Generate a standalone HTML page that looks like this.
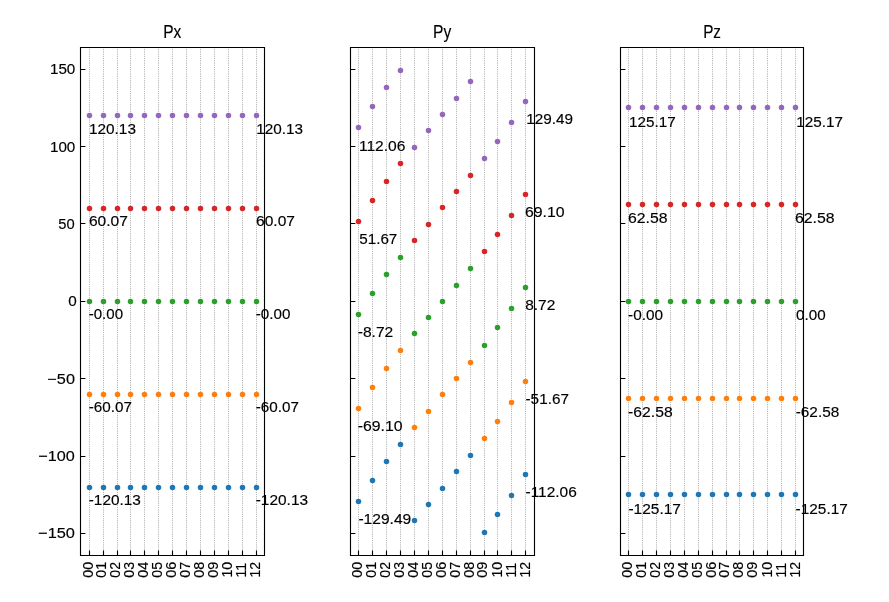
<!DOCTYPE html><html><head><meta charset="utf-8"><style>html,body{margin:0;padding:0;background:#fff;overflow:hidden}svg{display:block;will-change:transform}text{font-family:"Liberation Sans",sans-serif;fill:#000;stroke:#000;stroke-width:0.15px}</style></head><body>
<svg width="889" height="602" viewBox="0 0 889 602">
<rect width="889" height="602" fill="#fff"/>
<path d="M89.5 555.5V48M103.5 555.5V48M117.5 555.5V48M130.5 555.5V48M144.5 555.5V48M158.5 555.5V48M172.5 555.5V48M186.5 555.5V48M200.5 555.5V48M214.5 555.5V48M228.5 555.5V48M242.5 555.5V48M256.5 555.5V48" stroke="#999999" stroke-width="1" stroke-dasharray="0.69 1.15" fill="none"/>
<g fill="#1f77b4" stroke="#1f77b4" stroke-width="1.39"><circle cx="89.5" cy="487.5" r="2.08"/><circle cx="103.5" cy="487.5" r="2.08"/><circle cx="117.5" cy="487.5" r="2.08"/><circle cx="130.5" cy="487.5" r="2.08"/><circle cx="144.5" cy="487.5" r="2.08"/><circle cx="158.5" cy="487.5" r="2.08"/><circle cx="172.5" cy="487.5" r="2.08"/><circle cx="186.5" cy="487.5" r="2.08"/><circle cx="200.5" cy="487.5" r="2.08"/><circle cx="214.5" cy="487.5" r="2.08"/><circle cx="228.5" cy="487.5" r="2.08"/><circle cx="242.5" cy="487.5" r="2.08"/><circle cx="256.5" cy="487.5" r="2.08"/></g>
<g fill="#ff7f0e" stroke="#ff7f0e" stroke-width="1.39"><circle cx="89.5" cy="394.5" r="2.08"/><circle cx="103.5" cy="394.5" r="2.08"/><circle cx="117.5" cy="394.5" r="2.08"/><circle cx="130.5" cy="394.5" r="2.08"/><circle cx="144.5" cy="394.5" r="2.08"/><circle cx="158.5" cy="394.5" r="2.08"/><circle cx="172.5" cy="394.5" r="2.08"/><circle cx="186.5" cy="394.5" r="2.08"/><circle cx="200.5" cy="394.5" r="2.08"/><circle cx="214.5" cy="394.5" r="2.08"/><circle cx="228.5" cy="394.5" r="2.08"/><circle cx="242.5" cy="394.5" r="2.08"/><circle cx="256.5" cy="394.5" r="2.08"/></g>
<g fill="#2ca02c" stroke="#2ca02c" stroke-width="1.39"><circle cx="89.5" cy="301.5" r="2.08"/><circle cx="103.5" cy="301.5" r="2.08"/><circle cx="117.5" cy="301.5" r="2.08"/><circle cx="130.5" cy="301.5" r="2.08"/><circle cx="144.5" cy="301.5" r="2.08"/><circle cx="158.5" cy="301.5" r="2.08"/><circle cx="172.5" cy="301.5" r="2.08"/><circle cx="186.5" cy="301.5" r="2.08"/><circle cx="200.5" cy="301.5" r="2.08"/><circle cx="214.5" cy="301.5" r="2.08"/><circle cx="228.5" cy="301.5" r="2.08"/><circle cx="242.5" cy="301.5" r="2.08"/><circle cx="256.5" cy="301.5" r="2.08"/></g>
<g fill="#d62728" stroke="#d62728" stroke-width="1.39"><circle cx="89.5" cy="208.5" r="2.08"/><circle cx="103.5" cy="208.5" r="2.08"/><circle cx="117.5" cy="208.5" r="2.08"/><circle cx="130.5" cy="208.5" r="2.08"/><circle cx="144.5" cy="208.5" r="2.08"/><circle cx="158.5" cy="208.5" r="2.08"/><circle cx="172.5" cy="208.5" r="2.08"/><circle cx="186.5" cy="208.5" r="2.08"/><circle cx="200.5" cy="208.5" r="2.08"/><circle cx="214.5" cy="208.5" r="2.08"/><circle cx="228.5" cy="208.5" r="2.08"/><circle cx="242.5" cy="208.5" r="2.08"/><circle cx="256.5" cy="208.5" r="2.08"/></g>
<g fill="#9467bd" stroke="#9467bd" stroke-width="1.39"><circle cx="89.5" cy="115.5" r="2.08"/><circle cx="103.5" cy="115.5" r="2.08"/><circle cx="117.5" cy="115.5" r="2.08"/><circle cx="130.5" cy="115.5" r="2.08"/><circle cx="144.5" cy="115.5" r="2.08"/><circle cx="158.5" cy="115.5" r="2.08"/><circle cx="172.5" cy="115.5" r="2.08"/><circle cx="186.5" cy="115.5" r="2.08"/><circle cx="200.5" cy="115.5" r="2.08"/><circle cx="214.5" cy="115.5" r="2.08"/><circle cx="228.5" cy="115.5" r="2.08"/><circle cx="242.5" cy="115.5" r="2.08"/><circle cx="256.5" cy="115.5" r="2.08"/></g>
<path d="M80.5 47.5H264.5V555.5H80.5Z" stroke="#000" stroke-width="1.11" fill="none" stroke-linejoin="miter" stroke-linecap="square"/>
<path d="M80.5 69.5H85.4M80.5 146.5H85.4M80.5 223.5H85.4M80.5 301.5H85.4M80.5 378.5H85.4M80.5 456.5H85.4M80.5 533.5H85.4M89.5 555.5V550.6M103.5 555.5V550.6M117.5 555.5V550.6M130.5 555.5V550.6M144.5 555.5V550.6M158.5 555.5V550.6M172.5 555.5V550.6M186.5 555.5V550.6M200.5 555.5V550.6M214.5 555.5V550.6M228.5 555.5V550.6M242.5 555.5V550.6M256.5 555.5V550.6" stroke="#000" stroke-width="1.11" fill="none"/>
<path d="M358.5 555.5V48M372.5 555.5V48M386.5 555.5V48M400.5 555.5V48M414.5 555.5V48M428.5 555.5V48M442.5 555.5V48M456.5 555.5V48M470.5 555.5V48M484.5 555.5V48M497.5 555.5V48M511.5 555.5V48M525.5 555.5V48" stroke="#999999" stroke-width="1" stroke-dasharray="0.69 1.15" fill="none"/>
<g fill="#1f77b4" stroke="#1f77b4" stroke-width="1.39"><circle cx="358.5" cy="501.5" r="2.08"/><circle cx="372.5" cy="480.5" r="2.08"/><circle cx="386.5" cy="461.5" r="2.08"/><circle cx="400.5" cy="444.5" r="2.08"/><circle cx="414.5" cy="520.5" r="2.08"/><circle cx="428.5" cy="504.5" r="2.08"/><circle cx="442.5" cy="488.5" r="2.08"/><circle cx="456.5" cy="471.5" r="2.08"/><circle cx="470.5" cy="455.5" r="2.08"/><circle cx="484.5" cy="532.5" r="2.08"/><circle cx="497.5" cy="514.5" r="2.08"/><circle cx="511.5" cy="495.5" r="2.08"/><circle cx="525.5" cy="474.5" r="2.08"/></g>
<g fill="#ff7f0e" stroke="#ff7f0e" stroke-width="1.39"><circle cx="358.5" cy="408.5" r="2.08"/><circle cx="372.5" cy="387.5" r="2.08"/><circle cx="386.5" cy="368.5" r="2.08"/><circle cx="400.5" cy="350.5" r="2.08"/><circle cx="414.5" cy="427.5" r="2.08"/><circle cx="428.5" cy="411.5" r="2.08"/><circle cx="442.5" cy="394.5" r="2.08"/><circle cx="456.5" cy="378.5" r="2.08"/><circle cx="470.5" cy="362.5" r="2.08"/><circle cx="484.5" cy="438.5" r="2.08"/><circle cx="497.5" cy="421.5" r="2.08"/><circle cx="511.5" cy="402.5" r="2.08"/><circle cx="525.5" cy="381.5" r="2.08"/></g>
<g fill="#2ca02c" stroke="#2ca02c" stroke-width="1.39"><circle cx="358.5" cy="314.5" r="2.08"/><circle cx="372.5" cy="293.5" r="2.08"/><circle cx="386.5" cy="274.5" r="2.08"/><circle cx="400.5" cy="257.5" r="2.08"/><circle cx="414.5" cy="333.5" r="2.08"/><circle cx="428.5" cy="317.5" r="2.08"/><circle cx="442.5" cy="301.5" r="2.08"/><circle cx="456.5" cy="285.5" r="2.08"/><circle cx="470.5" cy="268.5" r="2.08"/><circle cx="484.5" cy="345.5" r="2.08"/><circle cx="497.5" cy="327.5" r="2.08"/><circle cx="511.5" cy="308.5" r="2.08"/><circle cx="525.5" cy="287.5" r="2.08"/></g>
<g fill="#d62728" stroke="#d62728" stroke-width="1.39"><circle cx="358.5" cy="221.5" r="2.08"/><circle cx="372.5" cy="200.5" r="2.08"/><circle cx="386.5" cy="181.5" r="2.08"/><circle cx="400.5" cy="163.5" r="2.08"/><circle cx="414.5" cy="240.5" r="2.08"/><circle cx="428.5" cy="224.5" r="2.08"/><circle cx="442.5" cy="207.5" r="2.08"/><circle cx="456.5" cy="191.5" r="2.08"/><circle cx="470.5" cy="175.5" r="2.08"/><circle cx="484.5" cy="251.5" r="2.08"/><circle cx="497.5" cy="234.5" r="2.08"/><circle cx="511.5" cy="215.5" r="2.08"/><circle cx="525.5" cy="194.5" r="2.08"/></g>
<g fill="#9467bd" stroke="#9467bd" stroke-width="1.39"><circle cx="358.5" cy="127.5" r="2.08"/><circle cx="372.5" cy="106.5" r="2.08"/><circle cx="386.5" cy="87.5" r="2.08"/><circle cx="400.5" cy="70.5" r="2.08"/><circle cx="414.5" cy="147.5" r="2.08"/><circle cx="428.5" cy="130.5" r="2.08"/><circle cx="442.5" cy="114.5" r="2.08"/><circle cx="456.5" cy="98.5" r="2.08"/><circle cx="470.5" cy="81.5" r="2.08"/><circle cx="484.5" cy="158.5" r="2.08"/><circle cx="497.5" cy="141.5" r="2.08"/><circle cx="511.5" cy="122.5" r="2.08"/><circle cx="525.5" cy="101.5" r="2.08"/></g>
<path d="M350.5 47.5H534.5V555.5H350.5Z" stroke="#000" stroke-width="1.11" fill="none" stroke-linejoin="miter" stroke-linecap="square"/>
<path d="M350.5 69.5H355.4M350.5 146.5H355.4M350.5 223.5H355.4M350.5 301.5H355.4M350.5 378.5H355.4M350.5 456.5H355.4M350.5 533.5H355.4M358.5 555.5V550.6M372.5 555.5V550.6M386.5 555.5V550.6M400.5 555.5V550.6M414.5 555.5V550.6M428.5 555.5V550.6M442.5 555.5V550.6M456.5 555.5V550.6M470.5 555.5V550.6M484.5 555.5V550.6M497.5 555.5V550.6M511.5 555.5V550.6M525.5 555.5V550.6" stroke="#000" stroke-width="1.11" fill="none"/>
<path d="M628.5 555.5V48M642.5 555.5V48M656.5 555.5V48M670.5 555.5V48M684.5 555.5V48M698.5 555.5V48M712.5 555.5V48M726.5 555.5V48M739.5 555.5V48M753.5 555.5V48M767.5 555.5V48M781.5 555.5V48M795.5 555.5V48" stroke="#999999" stroke-width="1" stroke-dasharray="0.69 1.15" fill="none"/>
<g fill="#1f77b4" stroke="#1f77b4" stroke-width="1.39"><circle cx="628.5" cy="494.5" r="2.08"/><circle cx="642.5" cy="494.5" r="2.08"/><circle cx="656.5" cy="494.5" r="2.08"/><circle cx="670.5" cy="494.5" r="2.08"/><circle cx="684.5" cy="494.5" r="2.08"/><circle cx="698.5" cy="494.5" r="2.08"/><circle cx="712.5" cy="494.5" r="2.08"/><circle cx="726.5" cy="494.5" r="2.08"/><circle cx="739.5" cy="494.5" r="2.08"/><circle cx="753.5" cy="494.5" r="2.08"/><circle cx="767.5" cy="494.5" r="2.08"/><circle cx="781.5" cy="494.5" r="2.08"/><circle cx="795.5" cy="494.5" r="2.08"/></g>
<g fill="#ff7f0e" stroke="#ff7f0e" stroke-width="1.39"><circle cx="628.5" cy="398.5" r="2.08"/><circle cx="642.5" cy="398.5" r="2.08"/><circle cx="656.5" cy="398.5" r="2.08"/><circle cx="670.5" cy="398.5" r="2.08"/><circle cx="684.5" cy="398.5" r="2.08"/><circle cx="698.5" cy="398.5" r="2.08"/><circle cx="712.5" cy="398.5" r="2.08"/><circle cx="726.5" cy="398.5" r="2.08"/><circle cx="739.5" cy="398.5" r="2.08"/><circle cx="753.5" cy="398.5" r="2.08"/><circle cx="767.5" cy="398.5" r="2.08"/><circle cx="781.5" cy="398.5" r="2.08"/><circle cx="795.5" cy="398.5" r="2.08"/></g>
<g fill="#2ca02c" stroke="#2ca02c" stroke-width="1.39"><circle cx="628.5" cy="301.5" r="2.08"/><circle cx="642.5" cy="301.5" r="2.08"/><circle cx="656.5" cy="301.5" r="2.08"/><circle cx="670.5" cy="301.5" r="2.08"/><circle cx="684.5" cy="301.5" r="2.08"/><circle cx="698.5" cy="301.5" r="2.08"/><circle cx="712.5" cy="301.5" r="2.08"/><circle cx="726.5" cy="301.5" r="2.08"/><circle cx="739.5" cy="301.5" r="2.08"/><circle cx="753.5" cy="301.5" r="2.08"/><circle cx="767.5" cy="301.5" r="2.08"/><circle cx="781.5" cy="301.5" r="2.08"/><circle cx="795.5" cy="301.5" r="2.08"/></g>
<g fill="#d62728" stroke="#d62728" stroke-width="1.39"><circle cx="628.5" cy="204.5" r="2.08"/><circle cx="642.5" cy="204.5" r="2.08"/><circle cx="656.5" cy="204.5" r="2.08"/><circle cx="670.5" cy="204.5" r="2.08"/><circle cx="684.5" cy="204.5" r="2.08"/><circle cx="698.5" cy="204.5" r="2.08"/><circle cx="712.5" cy="204.5" r="2.08"/><circle cx="726.5" cy="204.5" r="2.08"/><circle cx="739.5" cy="204.5" r="2.08"/><circle cx="753.5" cy="204.5" r="2.08"/><circle cx="767.5" cy="204.5" r="2.08"/><circle cx="781.5" cy="204.5" r="2.08"/><circle cx="795.5" cy="204.5" r="2.08"/></g>
<g fill="#9467bd" stroke="#9467bd" stroke-width="1.39"><circle cx="628.5" cy="107.5" r="2.08"/><circle cx="642.5" cy="107.5" r="2.08"/><circle cx="656.5" cy="107.5" r="2.08"/><circle cx="670.5" cy="107.5" r="2.08"/><circle cx="684.5" cy="107.5" r="2.08"/><circle cx="698.5" cy="107.5" r="2.08"/><circle cx="712.5" cy="107.5" r="2.08"/><circle cx="726.5" cy="107.5" r="2.08"/><circle cx="739.5" cy="107.5" r="2.08"/><circle cx="753.5" cy="107.5" r="2.08"/><circle cx="767.5" cy="107.5" r="2.08"/><circle cx="781.5" cy="107.5" r="2.08"/><circle cx="795.5" cy="107.5" r="2.08"/></g>
<path d="M620.5 47.5H803.5V555.5H620.5Z" stroke="#000" stroke-width="1.11" fill="none" stroke-linejoin="miter" stroke-linecap="square"/>
<path d="M620.5 69.5H625.4M620.5 146.5H625.4M620.5 223.5H625.4M620.5 301.5H625.4M620.5 378.5H625.4M620.5 456.5H625.4M620.5 533.5H625.4M628.5 555.5V550.6M642.5 555.5V550.6M656.5 555.5V550.6M670.5 555.5V550.6M684.5 555.5V550.6M698.5 555.5V550.6M712.5 555.5V550.6M726.5 555.5V550.6M739.5 555.5V550.6M753.5 555.5V550.6M767.5 555.5V550.6M781.5 555.5V550.6M795.5 555.5V550.6" stroke="#000" stroke-width="1.11" fill="none"/>
<text transform="translate(163.13,37.80) scale(0.8777,1)" font-size="17.66">Px</text>
<text transform="translate(433.12,37.80) scale(0.8836,1)" font-size="17.66">Py</text>
<text transform="translate(703.15,37.80) scale(0.8643,1)" font-size="17.66">Pz</text>
<text transform="translate(49.94,74.10) scale(1.0344,1)" font-size="14.72">150</text>
<text transform="translate(49.94,152.10) scale(1.0344,1)" font-size="14.72">100</text>
<text transform="translate(58.21,229.00) scale(0.9994,1)" font-size="14.72">50</text>
<text transform="translate(68.20,306.00) scale(1.0374,1)" font-size="14.72">0</text>
<text transform="translate(47.35,384.00) scale(1.1048,1)" font-size="14.72">−50</text>
<text transform="translate(38.30,460.95) scale(1.1019,1)" font-size="14.72">−100</text>
<text transform="translate(38.09,538.10) scale(1.1129,1)" font-size="14.72">−150</text>
<text transform="translate(92.60,577.66) rotate(-90) scale(0.9735,1)" font-size="14.72">00</text>
<text transform="translate(105.52,577.65) rotate(-90) scale(0.9604,1)" font-size="14.72">01</text>
<text transform="translate(120.44,577.65) rotate(-90) scale(0.9549,1)" font-size="14.72">02</text>
<text transform="translate(134.36,577.66) rotate(-90) scale(0.9661,1)" font-size="14.72">03</text>
<text transform="translate(148.28,577.66) rotate(-90) scale(0.9729,1)" font-size="14.72">04</text>
<text transform="translate(162.20,577.65) rotate(-90) scale(0.9583,1)" font-size="14.72">05</text>
<text transform="translate(176.12,577.67) rotate(-90) scale(0.9807,1)" font-size="14.72">06</text>
<text transform="translate(190.04,577.66) rotate(-90) scale(0.9678,1)" font-size="14.72">07</text>
<text transform="translate(203.96,577.66) rotate(-90) scale(0.9760,1)" font-size="14.72">08</text>
<text transform="translate(217.88,577.66) rotate(-90) scale(0.9780,1)" font-size="14.72">09</text>
<text transform="translate(231.80,577.62) rotate(-90) scale(0.9708,1)" font-size="14.72">10</text>
<text transform="translate(245.72,577.60) rotate(-90) scale(0.9571,1)" font-size="14.72">11</text>
<text transform="translate(259.64,577.60) rotate(-90) scale(0.9514,1)" font-size="14.72">12</text>
<text transform="translate(362.16,577.66) rotate(-90) scale(0.9735,1)" font-size="14.72">00</text>
<text transform="translate(376.08,577.65) rotate(-90) scale(0.9604,1)" font-size="14.72">01</text>
<text transform="translate(390.00,577.65) rotate(-90) scale(0.9549,1)" font-size="14.72">02</text>
<text transform="translate(403.92,577.66) rotate(-90) scale(0.9661,1)" font-size="14.72">03</text>
<text transform="translate(417.84,577.66) rotate(-90) scale(0.9729,1)" font-size="14.72">04</text>
<text transform="translate(431.76,577.65) rotate(-90) scale(0.9583,1)" font-size="14.72">05</text>
<text transform="translate(445.68,577.67) rotate(-90) scale(0.9807,1)" font-size="14.72">06</text>
<text transform="translate(459.60,577.66) rotate(-90) scale(0.9678,1)" font-size="14.72">07</text>
<text transform="translate(473.52,577.66) rotate(-90) scale(0.9760,1)" font-size="14.72">08</text>
<text transform="translate(487.44,577.66) rotate(-90) scale(0.9780,1)" font-size="14.72">09</text>
<text transform="translate(502.26,577.62) rotate(-90) scale(0.9708,1)" font-size="14.72">10</text>
<text transform="translate(516.18,577.60) rotate(-90) scale(0.9571,1)" font-size="14.72">11</text>
<text transform="translate(530.10,577.60) rotate(-90) scale(0.9514,1)" font-size="14.72">12</text>
<text transform="translate(632.00,577.66) rotate(-90) scale(0.9735,1)" font-size="14.72">00</text>
<text transform="translate(645.92,577.65) rotate(-90) scale(0.9604,1)" font-size="14.72">01</text>
<text transform="translate(659.84,577.65) rotate(-90) scale(0.9549,1)" font-size="14.72">02</text>
<text transform="translate(673.76,577.66) rotate(-90) scale(0.9661,1)" font-size="14.72">03</text>
<text transform="translate(687.68,577.66) rotate(-90) scale(0.9729,1)" font-size="14.72">04</text>
<text transform="translate(701.60,577.65) rotate(-90) scale(0.9583,1)" font-size="14.72">05</text>
<text transform="translate(715.52,577.67) rotate(-90) scale(0.9807,1)" font-size="14.72">06</text>
<text transform="translate(729.44,577.66) rotate(-90) scale(0.9678,1)" font-size="14.72">07</text>
<text transform="translate(743.36,577.66) rotate(-90) scale(0.9760,1)" font-size="14.72">08</text>
<text transform="translate(757.28,577.66) rotate(-90) scale(0.9780,1)" font-size="14.72">09</text>
<text transform="translate(772.10,577.62) rotate(-90) scale(0.9708,1)" font-size="14.72">10</text>
<text transform="translate(786.02,577.60) rotate(-90) scale(0.9571,1)" font-size="14.72">11</text>
<text transform="translate(799.94,577.60) rotate(-90) scale(0.9514,1)" font-size="14.72">12</text>
<text transform="translate(88.93,134.05) scale(1.0450,1)" font-size="14.72">120.13</text>
<text transform="translate(88.91,226.05) scale(1.0609,1)" font-size="14.72">60.07</text>
<text transform="translate(88.73,319.00) scale(1.0241,1)" font-size="14.72">-0.00</text>
<text transform="translate(88.72,412.00) scale(1.0361,1)" font-size="14.72">-60.07</text>
<text transform="translate(88.72,505.00) scale(1.0468,1)" font-size="14.72">-120.13</text>
<text transform="translate(256.24,134.20) scale(1.0380,1)" font-size="14.72">120.13</text>
<text transform="translate(255.96,226.05) scale(1.0595,1)" font-size="14.72">60.07</text>
<text transform="translate(255.72,319.00) scale(1.0333,1)" font-size="14.72">-0.00</text>
<text transform="translate(255.72,412.00) scale(1.0361,1)" font-size="14.72">-60.07</text>
<text transform="translate(255.71,505.00) scale(1.0489,1)" font-size="14.72">-120.13</text>
<text transform="translate(358.91,151.25) scale(1.0612,1)" font-size="14.72">112.06</text>
<text transform="translate(359.19,244.15) scale(1.0364,1)" font-size="14.72">51.67</text>
<text transform="translate(357.71,337.05) scale(1.0604,1)" font-size="14.72">-8.72</text>
<text transform="translate(357.70,431.00) scale(1.0763,1)" font-size="14.72">-69.10</text>
<text transform="translate(358.41,524.25) scale(1.0603,1)" font-size="14.72">-129.49</text>
<text transform="translate(526.33,123.95) scale(1.0393,1)" font-size="14.72">129.49</text>
<text transform="translate(524.99,217.10) scale(1.0771,1)" font-size="14.72">69.10</text>
<text transform="translate(525.13,310.00) scale(1.0525,1)" font-size="14.72">8.72</text>
<text transform="translate(525.52,404.20) scale(1.0411,1)" font-size="14.72">-51.67</text>
<text transform="translate(525.51,497.10) scale(1.0509,1)" font-size="14.72">-112.06</text>
<text transform="translate(628.93,127.10) scale(1.0403,1)" font-size="14.72">125.17</text>
<text transform="translate(628.00,223.20) scale(1.0748,1)" font-size="14.72">62.58</text>
<text transform="translate(628.12,320.05) scale(1.0426,1)" font-size="14.72">-0.00</text>
<text transform="translate(628.10,417.10) scale(1.0681,1)" font-size="14.72">-62.58</text>
<text transform="translate(628.41,514.25) scale(1.0530,1)" font-size="14.72">-125.17</text>
<text transform="translate(796.23,126.90) scale(1.0403,1)" font-size="14.72">125.17</text>
<text transform="translate(794.89,223.20) scale(1.0776,1)" font-size="14.72">62.58</text>
<text transform="translate(796.11,320.05) scale(1.0328,1)" font-size="14.72">0.00</text>
<text transform="translate(795.72,417.10) scale(1.0434,1)" font-size="14.72">-62.58</text>
<text transform="translate(795.62,514.25) scale(1.0468,1)" font-size="14.72">-125.17</text>
</svg></body></html>
